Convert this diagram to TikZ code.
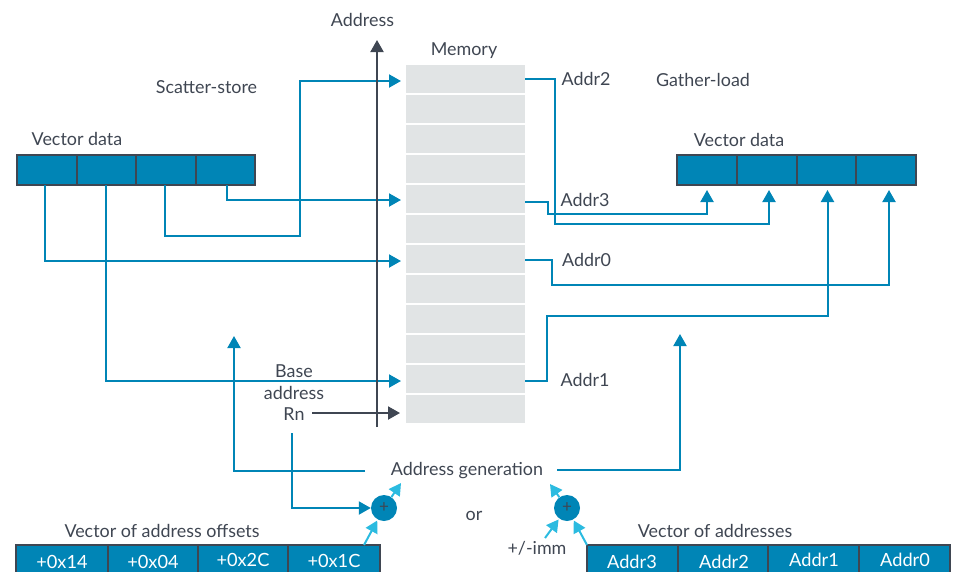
\documentclass[tikz,border=0pt]{standalone}
\usepackage{fontspec}
\setmainfont{Lato}
\usetikzlibrary{arrows.meta,calc}
\definecolor{armblue}{HTML}{0085B6}
\definecolor{armdark}{HTML}{3F4652}
\definecolor{armgray}{HTML}{E1E4E5}
\definecolor{armlight}{HTML}{2BBBE0}
\tikzset{
  x=1pt,y=-1pt,
  lbl/.style={text=armdark,font=\fontsize{17.9}{20}\selectfont,inner sep=0pt,align=center},
  wlbl/.style={text=white,font=\fontsize{18.2}{20}\selectfont,inner sep=0pt},
  memcell/.style={fill=armgray,minimum width=119pt,minimum height=28pt,inner sep=0pt,outer sep=0pt},
  veccell/.style={fill=armblue,draw=armdark,line width=2pt,inner sep=0pt,outer sep=0pt,minimum height=30pt},
  conn/.style={draw=armblue,line width=2pt,-{Triangle[length=12pt,width=13pt]}},
  lightarrow/.style={draw=armlight,line width=2pt,-{Triangle[length=12pt,width=13pt]}},
  darkarrow/.style={draw=armdark,line width=2pt,-{Triangle[length=12pt,width=13pt]}},
  adder/.style={circle,fill=armblue,minimum size=26pt,inner sep=0pt,text=armdark,font=\fontsize{17}{17}\selectfont},
}
\begin{document}
\begin{tikzpicture}
\useasboundingbox (0,0) rectangle (957,571);
\clip (0,0) rectangle (957,571);
% memory
\foreach \i/\y in {1/79,2/109,3/139,4/169,5/199,6/229,7/259,8/289,9/319,10/349,11/379,12/409}
  \node[memcell] (m\i) at (465.5,\y) {};
% vector data left
\node[veccell,minimum width=60pt] (vl1) at (47,170) {};
\node[veccell,minimum width=59pt] (vl2) at (106.5,170) {};
\node[veccell,minimum width=60pt] (vl3) at (166,170) {};
\node[veccell,minimum width=59pt] (vl4) at (225.5,170) {};
% vector data right
\node[veccell,minimum width=60pt] (vr1) at (707,170) {};
\node[veccell,minimum width=60pt] (vr2) at (767,170) {};
\node[veccell,minimum width=59pt] (vr3) at (826.5,170) {};
\node[veccell,minimum width=60pt] (vr4) at (886,170) {};
% bottom vectors
\node[veccell,minimum width=92pt,minimum height=40pt] (ol1) at (62,565) {};
\node[veccell,minimum width=90pt,minimum height=40pt] (ol2) at (153,565) {};
\node[veccell,minimum width=90pt,minimum height=40pt] (ol3) at (243,565) {};
\node[veccell,minimum width=92pt,minimum height=40pt] (ol4) at (334,565) {};
\node[veccell,minimum width=91pt,minimum height=40pt] (al1) at (632.5,565) {};
\node[veccell,minimum width=90pt,minimum height=40pt] (al2) at (723,565) {};
\node[veccell,minimum width=91pt,minimum height=40pt] (al3) at (813.5,565) {};
\node[veccell,minimum width=91pt,minimum height=40pt] (al4) at (904.5,565) {};
\node[wlbl] (t1) at (62,562) {+0x14};
\node[wlbl] (t2) at (153,562) {+0x04};
\node[wlbl] (t3) at (243,560) {+0x2C};
\node[wlbl] (t4) at (334,560.5) {+0x1C};
\node[wlbl] (t5) at (632,562) {Addr3};
\node[wlbl] (t6) at (724,561.5) {Addr2};
\node[wlbl] (t7) at (814,559.5) {Addr1};
\node[wlbl] (t8) at (905,559.5) {Addr0};
% labels
\node[lbl] (address) at (362.5,19.5) {Address};
\node[lbl] (memory) at (464,51) {Memory};
\node[lbl] (scatter) at (206.5,87) {Scatter-store};
\node[lbl] (gather) at (703,80) {Gather-load};
\node[lbl] (vdl) at (77,139) {Vector data};
\node[lbl] (vdr) at (739,140) {Vector data};
\node[lbl] (a2) at (586,79) {Addr2};
\node[lbl] (a3) at (585,200) {Addr3};
\node[lbl] (a0) at (586.5,260) {Addr0};
\node[lbl] (a1) at (585,380) {Addr1};
\node[lbl] (base) at (294,371) {Base};
\node[lbl] (baseb) at (294,393) {address};
\node[lbl] (rn) at (294,414) {Rn};
\node[lbl] (gen) at (467,471) {Address generation};
\node[lbl] (or) at (474,516) {or};
\node[lbl] (vao) at (162,530.5) {Vector of address offsets};
\node[lbl] (vad) at (715,530.5) {Vector of addresses};
\node[lbl] (imm) at (537,548.5) {+/-imm};
\node[adder] (p1) at (384,508) {+};
\node[adder] (p2) at (567,508) {+};
% free ends
\coordinate (sc) at (234,336);
\coordinate (gc) at (680,334);
\coordinate (g1) at (365,471);
\coordinate (g2) at (557,470);
% scatter connectors
\draw[conn,shorten >=5pt] ($(vl1.south)+(-2,0)$) |- ($(m7.west)+(0,2)$);
\draw[conn,shorten >=5pt] ($(vl2.south)+(-0.5,0)$) |- ($(m11.west)+(0,2)$);
\draw[conn,shorten >=5pt] (vl3.south-|165,0) |- (300,236) |- ($(m1.west)+(0,2)$);
\draw[conn,shorten >=5pt] ($(vl4.south)+(1.5,0)$) |- ($(m5.west)+(0,1)$);
% gather connectors
\draw[conn,shorten >=5pt] (m1.east) -| (555,224) -| ($(vr2.south)+(2,0)$);
\draw[conn,shorten >=5pt] ($(m5.east)+(0,2.5)$) -| (548,214) -| (vr1.south);
\draw[conn,shorten >=5pt] ($(m7.east)+(0,1)$) -| (552,285) -| ($(vr4.south)+(3,0)$);
\draw[conn,shorten >=5pt] ($(m11.east)+(0,2)$) -| (547,316) -| ($(vr3.south)+(1,0)$);
% address generation
\draw[conn] (g1) -| (sc);
\draw[conn] (g2) -| (gc);
\draw[conn] (292,433) |- (p1.west);
% axis and Rn
\draw[darkarrow] (377,427) -- (377,40);
\draw[darkarrow,shorten >=6pt] (312,413) -- (m12.west|-312,413);
% adders
\draw[lightarrow,shorten >=1pt] (364,545) -- (p1);
\draw[lightarrow] (p1) -- (401,483);
\draw[lightarrow] (p2) -- (550,484);
\draw[lightarrow,shorten >=1pt] (545,538) -- (p2);
\draw[lightarrow,shorten >=1pt] (587,545) -- (p2);
\end{tikzpicture}
\end{document}
